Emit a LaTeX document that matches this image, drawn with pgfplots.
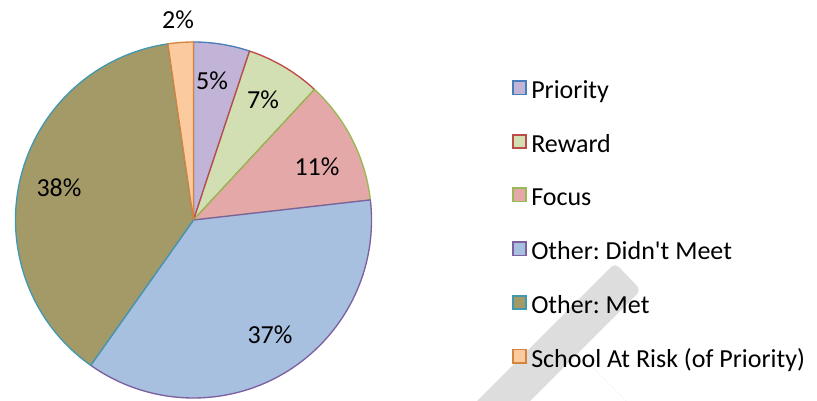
\documentclass[border=0pt]{standalone}
\usepackage{fontspec}
\setmainfont{Carlito}[Ligatures=TeXOff]
\usepackage{pgfplots}
\pgfplotsset{compat=1.18}

\definecolor{priFill}{HTML}{C2B4D6}  \definecolor{priLine}{HTML}{4A7EBB}
\definecolor{rewFill}{HTML}{D1DFB3}  \definecolor{rewLine}{HTML}{BE4B48}
\definecolor{focFill}{HTML}{E3A8A7}  \definecolor{focLine}{HTML}{98B954}
\definecolor{dmFill}{HTML}{A7C0DF}   \definecolor{dmLine}{HTML}{7D60A0}
\definecolor{metFill}{HTML}{A49A67}  \definecolor{metLine}{HTML}{4198AF}
\definecolor{riskFill}{HTML}{FBCA9F} \definecolor{riskLine}{HTML}{D4843C}
\definecolor{wmark}{HTML}{DDDDDD}

% share of schools, percent, clockwise from 12 o'clock
\def\pPri{5.1}
\def\pRew{6.8}
\def\pFoc{11.3}
\def\pDm{36.6}
\def\pMet{37.9}
\def\pRisk{2.3}

\pgfmathsetmacro\aA{90-3.6*\pPri}
\pgfmathsetmacro\aB{\aA-3.6*\pRew}
\pgfmathsetmacro\aC{\aB-3.6*\pFoc}
\pgfmathsetmacro\aD{\aC-3.6*\pDm}
\pgfmathsetmacro\aE{\aD-3.6*\pMet}
\pgfmathsetmacro\aF{\aE-3.6*\pRisk}

\def\R{133.5pt}
% one wedge: start angle, end angle, fill, line
\newcommand{\slice}[4]{%
  \filldraw[fill=#3, draw=#4, line width=1pt, line join=round]
    (axis cs:193.5,180) -- ++(#1:\R) arc[start angle=#1, end angle=#2, radius=\R] -- cycle;}
% legend entry: centre of box (image y), fill, line, text
\newcommand{\entry}[4]{%
  \draw[fill=#2, draw=#3, line width=1.2pt] (axis cs:512.8,{400-#1+6.7}) rectangle (axis cs:526.2,{400-#1-6.7});
  \node[anchor=base west, inner sep=0pt] at (axis cs:531,{400-#1-11}) {#4};}

\begin{document}
\frenchspacing
\fontsize{19.5pt}{23pt}\selectfont
\begin{tikzpicture}
\begin{axis}[
  width=612.75pt, height=300pt, scale only axis,
  xmin=0, xmax=817, ymin=0, ymax=400,
  hide axis,
]
% faint watermark strokes behind the legend
\fill[wmark, rounded corners=4pt] (axis cs:641,110) -- (axis cs:615,137) -- (axis cs:456,-22) -- (axis cs:483,-48) -- cycle;
\fill[wmark] (axis cs:551,74) -- (axis cs:579,46) -- (axis cs:714,-89) -- (axis cs:686,-61) -- cycle;

\slice{90}{\aA}{priFill}{priLine}
\slice{\aA}{\aB}{rewFill}{rewLine}
\slice{\aB}{\aC}{focFill}{focLine}
\slice{\aC}{\aD}{dmFill}{dmLine}
\slice{\aD}{\aE}{metFill}{metLine}
\slice{\aE}{\aF}{riskFill}{riskLine}

\node[inner sep=0pt] at (axis cs:212,319) {5\%};
\node[inner sep=0pt] at (axis cs:263,300) {7\%};
\node[inner sep=0pt] at (axis cs:317,233) {11\%};
\node[inner sep=0pt] at (axis cs:270,65) {37\%};
\node[inner sep=0pt] at (axis cs:59,212) {38\%};
\node[inner sep=0pt] at (axis cs:178,380) {2\%};

\entry{88}{priFill}{priLine}{Priority}
\entry{141.5}{rewFill}{rewLine}{Reward}
\entry{195}{focFill}{focLine}{Focus}
\entry{248.7}{dmFill}{dmLine}{Other: Didn't Meet}
\entry{302.4}{metFill}{metLine}{Other: Met}
\entry{356}{riskFill}{riskLine}{School At Risk (of Priority)}
\end{axis}
\pgfresetboundingbox
\path (0,0) rectangle (612.75pt,300pt);
\end{tikzpicture}
\end{document}
